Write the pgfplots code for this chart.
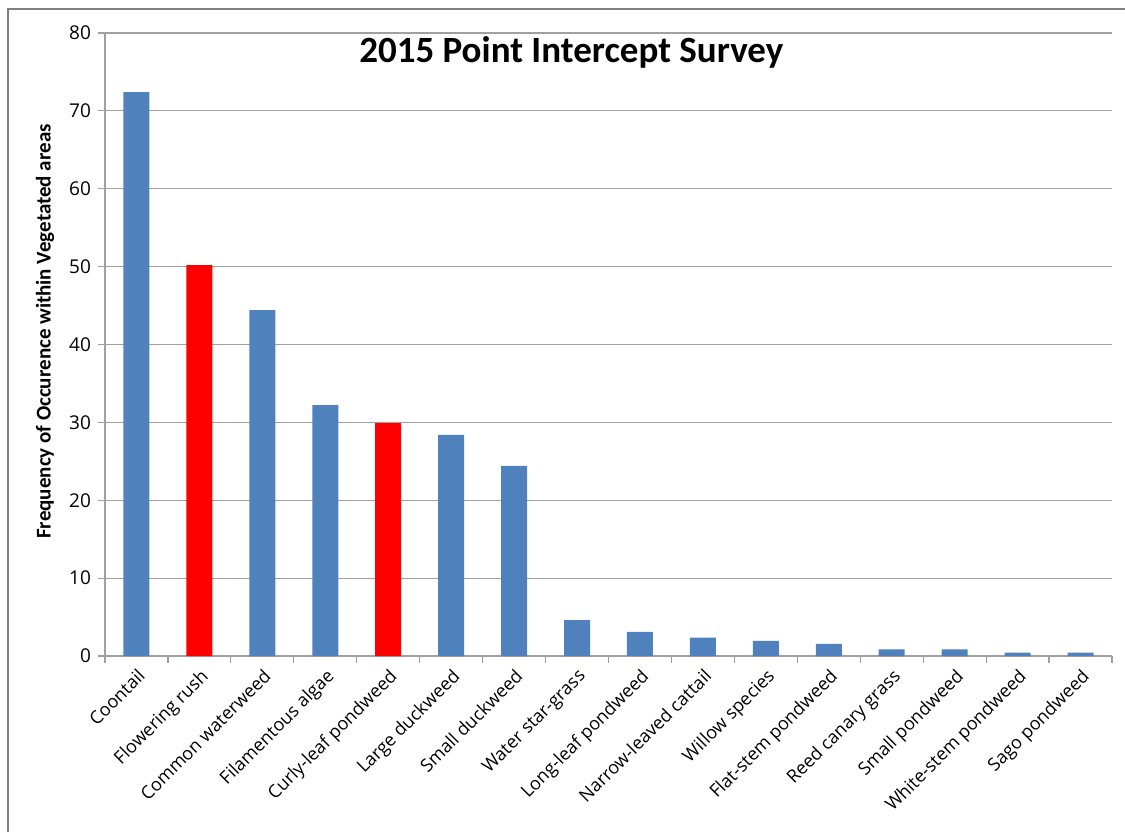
\documentclass[border=0pt]{standalone}
\usepackage{pgfplots}
\pgfplotsset{compat=1.18}
\usepackage{fontspec}
\setmainfont{Carlito}
\newfontfamily\tickfont{Open Sans}
\definecolor{barblue}{HTML}{4F81BD}
\definecolor{gridgray}{HTML}{A0A0A0}
\begin{document}
\begin{tikzpicture}
\path[use as bounding box] (0,0) rectangle (562.5pt,416pt);
\draw[gridgray!80!black, line width=0.75pt] (4pt,0) -- (4pt,411.5pt) -- (562.5pt,411.5pt);
\begin{axis}[
    at={(52.5pt,88pt)}, anchor=south west,
    scale only axis,
    width=503.5pt, height=311.5pt,
    ybar, bar width=13pt, bar shift=0pt,
    xmin=-0.5, xmax=15.5,
    ymin=0, ymax=80,
    ytick={0,10,...,80},
    xtick={0,...,15},
    xticklabels={Coontail, Flowering rush, Common waterweed, Filamentous algae, Curly-leaf pondweed, Large duckweed, Small duckweed, Water star-grass, Long-leaf pondweed, Narrow-leaved cattail, Willow species, Flat-stem pondweed, Reed canary grass, Small pondweed, White-stem pondweed, Sago pondweed},
    minor xtick={-0.5,0.5,...,15.5},
    x tick label style={rotate=45, anchor=north east, font=\tickfont\fontsize{9}{10}\selectfont, inner sep=1.5pt},
    y tick label style={font=\tickfont\fontsize{9.5}{11}\selectfont},
    /pgf/number format/assume math mode=true,
    major x tick style={draw=none},
    tick style={gridgray, line width=0.6pt},
    tick align=outside, tick pos=left,
    major tick length=3.5pt, minor tick length=3.5pt,
    ymajorgrids=true,
    grid style={gridgray, line width=0.6pt},
    axis x line*=bottom, axis y line*=left,
    axis line style={gridgray, line width=0.8pt},
    ylabel={\textbf{Frequency of Occurence within Vegetated areas}},
    ylabel style={font=\fontsize{10.5}{12}\selectfont, at={(axis description cs:-0.0596,0.521)}, anchor=center},
    title={\textbf{2015 Point Intercept Survey}},
    title style={font=\fontsize{18.5}{22}\selectfont, at={(axis description cs:0.463,0.95)}, anchor=center},
]
\addplot[fill=barblue, draw=none] coordinates {
    (0,72.4) (2,44.4) (3,32.2) (5,28.4) (6,24.4) (7,4.6) (8,3.1) (9,2.35)
    (10,1.95) (11,1.55) (12,0.85) (13,0.85) (14,0.45) (15,0.45)
};
\addplot[fill=red, draw=none] coordinates {
    (1,50.2) (4,29.9)
};
\end{axis}
\end{tikzpicture}
\end{document}
